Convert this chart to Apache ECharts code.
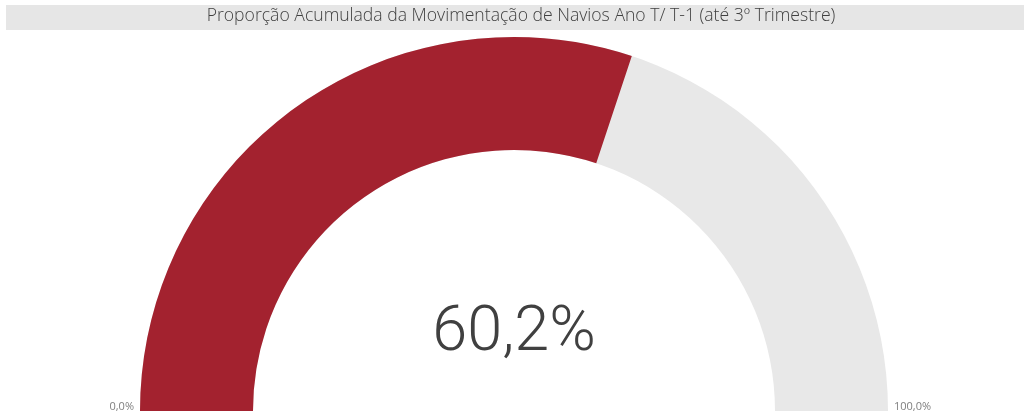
<!DOCTYPE html>
<html><head><meta charset="utf-8">
<script src="https://cdn.jsdelivr.net/npm/echarts@6/dist/echarts.min.js"></script>
<style>html,body{margin:0;padding:0;background:#fff}#c{width:1024px;height:415px}</style>
</head><body><div id="c"></div>
<script>
const titleText = 'Proporção Acumulada da Movimentação de Navios Ano T/ T-1 (até 3º Trimestre)';
const gaugeValue = 60.2;
const gaugeMin = 0;
const gaugeMax = 100;
const minLabel = '0,0%';
const maxLabel = '100,0%';

const chart = echarts.init(document.getElementById('c'), null, {renderer: 'canvas'});
const fmt = v => v.toFixed(1).replace('.', ',') + '%';
chart.setOption({
  animation: false,
  backgroundColor: '#ffffff',
  graphic: [
    {type: 'rect', shape: {x: 6, y: 5, width: 1018, height: 25}, style: {fill: '#e6e6e6'}, z: 0},
    {type: 'text', x: 521, y: 7, style: {text: titleText, font: '300 17.6px "Open Sans"', fill: '#404040', align: 'center'}, z: 1},
    {type: 'text', right: 1024 - 134, top: 401, style: {text: minLabel, font: '11px "Open Sans"', fill: '#7f7f7f'}},
    {type: 'text', left: 894, top: 401, style: {text: maxLabel, font: '11px "Open Sans"', fill: '#7f7f7f'}}
  ],
  series: [{
    type: 'gauge',
    center: [514, 411],
    radius: 374,
    startAngle: 180,
    endAngle: 0,
    min: gaugeMin,
    max: gaugeMax,
    pointer: {show: false},
    progress: {show: true, width: 113, itemStyle: {color: '#a3222f'}},
    axisLine: {lineStyle: {width: 113, color: [[1, '#e8e8e8']]}},
    axisTick: {show: false},
    splitLine: {show: false},
    axisLabel: {show: false},
    title: {show: false},
    detail: {
      offsetCenter: [0, -77],
      formatter: fmt,
      fontFamily: 'Roboto',
      fontWeight: 300,
      fontSize: 63,
      color: '#404040'
    },
    data: [{value: gaugeValue}]
  }]
});
</script></body></html>
